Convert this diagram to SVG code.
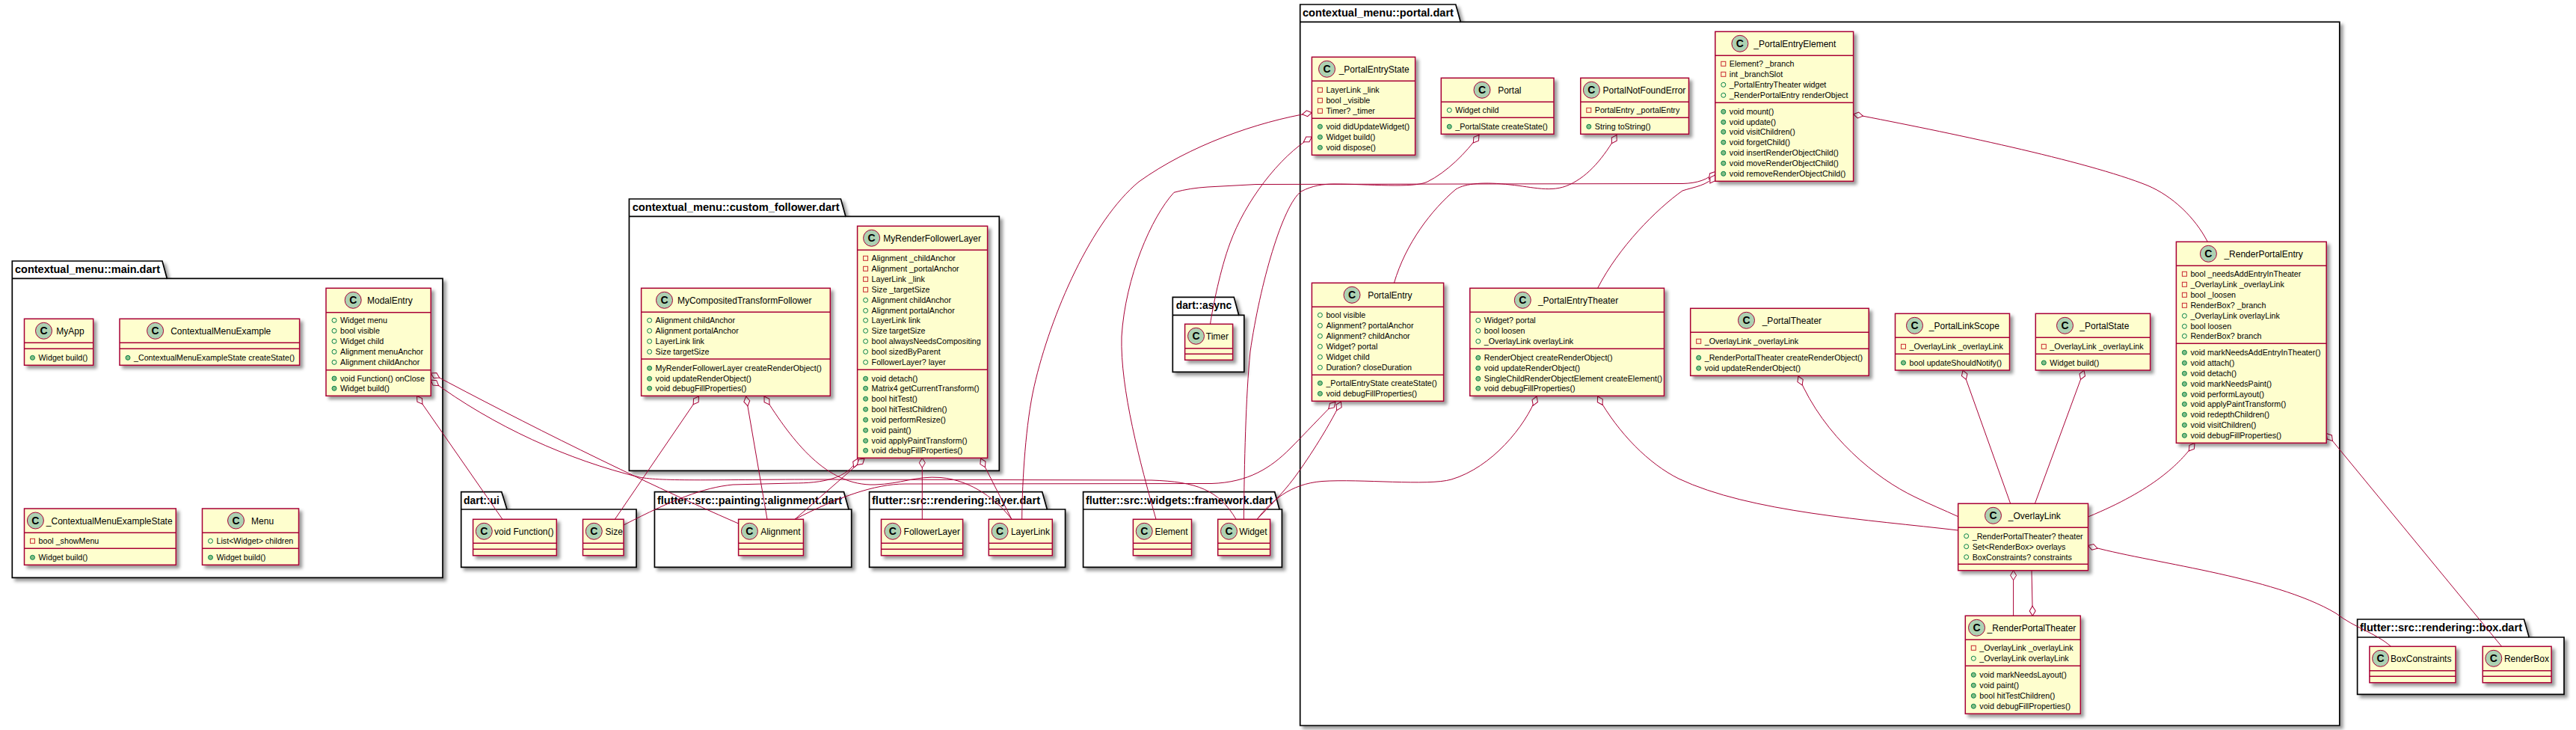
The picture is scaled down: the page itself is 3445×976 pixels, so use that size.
<svg xmlns="http://www.w3.org/2000/svg" width="3445" height="976" viewBox="0 0 3445 976">
<style>
text{font-family:"Liberation Sans",Arial,sans-serif;fill:#000}
.p{fill:#fff;stroke:#000;stroke-width:1.7;filter:url(#f)}
.pl{fill:none;stroke:#000;stroke-width:1.7}
.pt{font-size:14px;font-weight:700}
.b{fill:#FEFECE;stroke:#A80036;stroke-width:1.5;filter:url(#f)}
.s{fill:none;stroke:#A80036;stroke-width:1.5}
.n{font-size:12px}
.t{font-size:10.7px}
.cc{fill:#ADD1B2;stroke:#A80036;stroke-width:1}
.cl{font-size:14px;font-weight:700;text-anchor:middle}
.k path{fill:none;stroke:#A80036;stroke-width:1;marker-start:url(#d)}
</style>
<defs>
<filter id="f" x="-10%" y="-10%" width="130%" height="130%">
<feGaussianBlur result="b1" stdDeviation="2"/>
<feColorMatrix in="b1" result="b2" type="matrix" values="0 0 0 0 0 0 0 0 0 0 0 0 0 0 0 0 0 0 .4 0"/>
<feOffset dx="4" dy="4" in="b2" result="b3"/>
<feBlend in="SourceGraphic" in2="b3" mode="normal"/>
</filter>
<marker id="d" markerUnits="userSpaceOnUse" markerWidth="16" markerHeight="12" viewBox="-1 -6 16 12" refX="0" refY="0" orient="auto"><path d="M0,0L6.5,-4L13,0L6.5,4Z" fill="#fff" stroke="#A80036" stroke-width="1"/></marker>
<circle id="ia" r="3" fill="none" stroke="#038048"/>
<circle id="im" r="3" fill="#84BE84" stroke="#038048"/>
<rect id="ip" x="-3" y="-3" width="6" height="6" fill="none" stroke="#C82930"/>
<g id="sc"><circle class="cc" r="11"/><text class="cl" y="5">C</text></g>
</defs>

<g id="pkg-main"><path class="p" d="M16.3,349H217L223.3,372.3H592V772.3H16.3Z"/><path class="pl" d="M16.3,372.3H223.3"/><text class="pt" x="20" y="365" textLength="194" lengthAdjust="spacingAndGlyphs">contextual_menu::main.dart</text></g>
<g id="pkg-follower"><path class="p" d="M841.4,266H1124.4L1130.9,289.3H1336.3V629.3H841.4Z"/><path class="pl" d="M841.4,289.3H1130.9"/><text class="pt" x="845.7" y="282" textLength="277" lengthAdjust="spacingAndGlyphs">contextual_menu::custom_follower.dart</text></g>
<g id="pkg-portal"><path class="p" d="M1738.7,6H1946.8L1953.3,29.3H3128.8V970H1738.7Z"/><path class="pl" d="M1738.7,29.3H1953.3"/><text class="pt" x="1742" y="22" textLength="202" lengthAdjust="spacingAndGlyphs">contextual_menu::portal.dart</text></g>
<g id="pkg-async"><path class="p" d="M1568.3,397.3H1650.2L1656.7,421.3H1663.8V497.3H1568.3Z"/><path class="pl" d="M1568.3,421.3H1656.7"/><text class="pt" x="1572.7" y="413.3" textLength="74.5" lengthAdjust="spacingAndGlyphs">dart::async</text></g>
<g id="pkg-ui"><path class="p" d="M616.7,657.7H670.8L678,681H851V758.3H616.7Z"/><path class="pl" d="M616.7,681H678"/><text class="pt" x="620" y="673.7" textLength="48" lengthAdjust="spacingAndGlyphs">dart::ui</text></g>
<g id="pkg-alignment"><path class="p" d="M875.4,657.7H1128.5L1135,681H1138.7V758.3H875.4Z"/><path class="pl" d="M875.4,681H1135"/><text class="pt" x="879" y="673.7" textLength="247" lengthAdjust="spacingAndGlyphs">flutter::src::painting::alignment.dart</text></g>
<g id="pkg-layer"><path class="p" d="M1162.6,657.7H1393.8L1400.3,681H1424.6V758.3H1162.6Z"/><path class="pl" d="M1162.6,681H1400.3"/><text class="pt" x="1166" y="673.7" textLength="225" lengthAdjust="spacingAndGlyphs">flutter::src::rendering::layer.dart</text></g>
<g id="pkg-framework"><path class="p" d="M1448.6,657.7H1704.7L1711,681H1714.4V758.3H1448.6Z"/><path class="pl" d="M1448.6,681H1711"/><text class="pt" x="1452" y="673.7" textLength="250" lengthAdjust="spacingAndGlyphs">flutter::src::widgets::framework.dart</text></g>
<g id="pkg-box"><path class="p" d="M3152.6,828H3375.5L3382.2,852H3429V928.3H3152.6Z"/><path class="pl" d="M3152.6,852H3382.2"/><text class="pt" x="3156" y="844" textLength="217" lengthAdjust="spacingAndGlyphs">flutter::src::rendering::box.dart</text></g>

<g id="connectors" class="k">
<path d="M557.5,529.5L672,694.3"/>
<path d="M576.2,499C700,565 850,640 987.6,700"/>
<path d="M576.2,508C660,570 760,615 855,638C885,644 960,641 1100,641L1540,642C1600,644 1630,655 1653,694.3"/>
<path d="M934.5,530L822.3,694.3"/>
<path d="M997.7,530L1026,694.3"/>
<path d="M1022,530C1060,590 1105,650 1170,648C1205,647 1225,636 1258,638.5C1300,642 1335,670 1353,694.3"/>
<path d="M1147,613C1135,640 1100,646 1060,646L980,648C940,652 900,668 834,702"/>
<path d="M1156,613L1063,694.3"/>
<path d="M1233.3,612.3L1233.3,694.3"/>
<path d="M1311.5,613L1353,694.3"/>
<path d="M1754.4,150.7C1680,163 1590,195 1523,243C1460,295 1405,420 1383,516.7C1372,565 1367,640 1366.7,694.3"/>
<path d="M1754.4,183C1710,210 1665,270 1645,325C1632,360 1622,410 1618.5,433.3"/>
<path d="M1978,180.5C1960,205 1935,230 1909,243C1890,252 1830,246 1784,246C1770,246 1755,248 1740,256C1715,275 1685,380 1672,470C1666,530 1664,620 1663.4,694.3"/>
<path d="M1786,537.5C1770,553 1745,580 1725,600C1700,625 1670,645 1620,646.5L1210,647C1170,647 1120,665 1063,694.3"/>
<path d="M1793.4,537C1775,575 1745,620 1730,640C1715,660 1695,680 1681,694.3"/>
<path d="M2055,530C2040,570 1995,625 1941,641C1910,650 1820,640 1768,643.5C1725,647 1700,670 1681,694.3"/>
<path d="M2293.8,229.5C2285,240 2270,245 2250,245.5L1680,246.5L1615,250C1600,251 1585,253 1570,257.3C1540,290 1505,370 1500,450C1498,520 1525,620 1546,694.3"/>
<path d="M2293.8,234C2285,248 2265,250 2250,255C2215,280 2165,330 2136.6,385.3"/>
<path d="M2162,180.5C2145,210 2125,235 2098.6,247C2075,258 2050,250 2020,247C1985,243 1960,245 1947,253C1915,280 1880,325 1864.4,378.3"/>
<path d="M2478.6,152.7C2600,176 2790,215 2872,248C2905,262 2935,290 2952.3,323.3"/>
<path d="M2136.6,530C2165,580 2205,620 2245,640C2340,685 2500,695 2618.7,709"/>
<path d="M2405,503C2440,585 2510,640 2560,664C2580,674 2600,682 2618.7,690.7"/>
<path d="M2625,495.2L2688.7,673.3"/>
<path d="M2787,495.2L2721.4,673.3"/>
<path d="M2935,592.5C2915,620 2880,655 2792.5,691"/>
<path d="M2692.6,762.7L2692.6,823.3"/>
<path d="M2718.3,823.3L2717,762.7"/>
<path d="M2792.5,729.5C2870,752 3040,770 3124,820C3150,840 3175,845 3197.7,864.3"/>
<path d="M3111.2,579.5L3345.6,864.3"/>
</g>

<g id="MyApp" transform="translate(32.5,426.3)"><rect class="b" width="92.2" height="62"/><path class="s" d="M0,32H92.2M0,40H92.2"/><use href="#sc" x="26" y="16"/><text class="n" x="42.8" y="20.5">MyApp</text><use href="#im" x="11" y="52"/><text class="t" x="19" y="56">Widget build()</text></g>
<g id="ContextualMenuExample" transform="translate(160,426.3)"><rect class="b" width="240.6" height="62"/><path class="s" d="M0,32H240.6M0,40H240.6"/><use href="#sc" x="47.6" y="16"/><text class="n" x="68.2" y="20.5">ContextualMenuExample</text><use href="#im" x="11" y="52"/><text class="t" x="19" y="56">_ContextualMenuExampleState createState()</text></g>
<g id="ModalEntry" transform="translate(436,385.3)"><rect class="b" width="140.2" height="144"/><path class="s" d="M0,32.4H140.2M0,109.4H140.2"/><use href="#sc" x="36.2" y="16"/><text class="n" x="55" y="20.5">ModalEntry</text>
<use href="#ia" x="11" y="43"/><text class="t" x="19" y="47">Widget menu</text><use href="#ia" x="11" y="57"/><text class="t" x="19" y="61">bool visible</text><use href="#ia" x="11" y="71"/><text class="t" x="19" y="75">Widget child</text><use href="#ia" x="11" y="85"/><text class="t" x="19" y="89">Alignment menuAnchor</text><use href="#ia" x="11" y="99"/><text class="t" x="19" y="103">Alignment childAnchor</text>
<use href="#im" x="11" y="120.7"/><text class="t" x="19" y="124.7">void Function() onClose</text><use href="#im" x="11" y="134"/><text class="t" x="19" y="138">Widget build()</text></g>
<g id="_ContextualMenuExampleState" transform="translate(32.5,680)"><rect class="b" width="202.8" height="75.3"/><path class="s" d="M0,32.3H202.8M0,53.3H202.8"/><use href="#sc" x="14.9" y="16"/><text class="n" x="29.3" y="20.5">_ContextualMenuExampleState</text><use href="#ip" x="11" y="43.3"/><text class="t" x="19" y="47.3">bool _showMenu</text><use href="#im" x="11" y="65.3"/><text class="t" x="19" y="69.3">Widget build()</text></g>
<g id="Menu" transform="translate(270.5,680)"><rect class="b" width="129" height="75.3"/><path class="s" d="M0,32.3H129M0,53.3H129"/><use href="#sc" x="45" y="16"/><text class="n" x="65.6" y="20.5">Menu</text><use href="#ia" x="11" y="43.3"/><text class="t" x="19" y="47.3">List&lt;Widget&gt; children</text><use href="#im" x="11" y="65.3"/><text class="t" x="19" y="69.3">Widget build()</text></g>

<g id="MyCompositedTransformFollower" transform="translate(857.6,385.3)"><rect class="b" width="252.7" height="144"/><path class="s" d="M0,32H252.7M0,94.7H252.7"/><use href="#sc" x="30.9" y="16"/><text class="n" x="48.3" y="20.5">MyCompositedTransformFollower</text>
<use href="#ia" x="11" y="43"/><text class="t" x="19" y="47">Alignment childAnchor</text><use href="#ia" x="11" y="57"/><text class="t" x="19" y="61">Alignment portalAnchor</text><use href="#ia" x="11" y="71"/><text class="t" x="19" y="75">LayerLink link</text><use href="#ia" x="11" y="85"/><text class="t" x="19" y="89">Size targetSize</text>
<use href="#im" x="11" y="107"/><text class="t" x="19" y="111">MyRenderFollowerLayer createRenderObject()</text><use href="#im" x="11" y="121"/><text class="t" x="19" y="125">void updateRenderObject()</text><use href="#im" x="11" y="134"/><text class="t" x="19" y="138">void debugFillProperties()</text></g>
<g id="MyRenderFollowerLayer" transform="translate(1146.6,302.3)"><rect class="b" width="174" height="310"/><path class="s" d="M0,32H174M0,192H174"/><use href="#sc" x="19" y="16"/><text class="n" x="34.7" y="20.5">MyRenderFollowerLayer</text>
<use href="#ip" x="11" y="43"/><text class="t" x="19" y="47">Alignment _childAnchor</text><use href="#ip" x="11" y="57"/><text class="t" x="19" y="61">Alignment _portalAnchor</text><use href="#ip" x="11" y="71"/><text class="t" x="19" y="75">LayerLink _link</text><use href="#ip" x="11" y="85"/><text class="t" x="19" y="89">Size _targetSize</text><use href="#ia" x="11" y="99"/><text class="t" x="19" y="103">Alignment childAnchor</text><use href="#ia" x="11" y="113"/><text class="t" x="19" y="117">Alignment portalAnchor</text><use href="#ia" x="11" y="126"/><text class="t" x="19" y="130">LayerLink link</text><use href="#ia" x="11" y="140"/><text class="t" x="19" y="144">Size targetSize</text><use href="#ia" x="11" y="154"/><text class="t" x="19" y="158">bool alwaysNeedsCompositing</text><use href="#ia" x="11" y="168"/><text class="t" x="19" y="172">bool sizedByParent</text><use href="#ia" x="11" y="182"/><text class="t" x="19" y="186">FollowerLayer? layer</text>
<use href="#im" x="11" y="204"/><text class="t" x="19" y="208">void detach()</text><use href="#im" x="11" y="217"/><text class="t" x="19" y="221">Matrix4 getCurrentTransform()</text><use href="#im" x="11" y="231"/><text class="t" x="19" y="235">bool hitTest()</text><use href="#im" x="11" y="245"/><text class="t" x="19" y="249">bool hitTestChildren()</text><use href="#im" x="11" y="259"/><text class="t" x="19" y="263">void performResize()</text><use href="#im" x="11" y="273"/><text class="t" x="19" y="277">void paint()</text><use href="#im" x="11" y="287"/><text class="t" x="19" y="291">void applyPaintTransform()</text><use href="#im" x="11" y="300"/><text class="t" x="19" y="304">void debugFillProperties()</text></g>

<g id="Timer" transform="translate(1584.6,433.3)"><rect class="b" width="64" height="48"/><path class="s" d="M0,32.5H64M0,40H64"/><use href="#sc" x="14.9" y="16"/><text class="n" x="28.2" y="20.5">Timer</text></g>
<g id="void-Function" transform="translate(632.6,694.3)"><rect class="b" width="111.7" height="48.4"/><path class="s" d="M0,32H111.7M0,40H111.7"/><use href="#sc" x="14.7" y="16"/><text class="n" x="28.5" y="20.5">void Function()</text></g>
<g id="Size" transform="translate(779.5,694.3)"><rect class="b" width="54.5" height="48.4"/><path class="s" d="M0,32H54.5M0,40H54.5"/><use href="#sc" x="14.8" y="16"/><text class="n" x="30.1" y="20.5">Size</text></g>
<g id="Alignment" transform="translate(987.6,694.3)"><rect class="b" width="86.8" height="48.4"/><path class="s" d="M0,32H86.8M0,40H86.8"/><use href="#sc" x="14.8" y="16"/><text class="n" x="29.6" y="20.5">Alignment</text></g>
<g id="FollowerLayer" transform="translate(1178.5,694.3)"><rect class="b" width="109.1" height="48.4"/><path class="s" d="M0,32H109.1M0,40H109.1"/><use href="#sc" x="15.3" y="16"/><text class="n" x="30.1" y="20.5">FollowerLayer</text></g>
<g id="LayerLink" transform="translate(1322.3,694.3)"><rect class="b" width="85" height="48.4"/><path class="s" d="M0,32H85M0,40H85"/><use href="#sc" x="14.8" y="16"/><text class="n" x="29.6" y="20.5">LayerLink</text></g>
<g id="Element" transform="translate(1515.4,694.3)"><rect class="b" width="78.1" height="48.4"/><path class="s" d="M0,32H78.1M0,40H78.1"/><use href="#sc" x="14.8" y="16"/><text class="n" x="29.1" y="20.5">Element</text></g>
<g id="Widget" transform="translate(1628.7,694.3)"><rect class="b" width="69.9" height="48.4"/><path class="s" d="M0,32H69.9M0,40H69.9"/><use href="#sc" x="14.8" y="16"/><text class="n" x="28.5" y="20.5">Widget</text></g>
<g id="BoxConstraints" transform="translate(3168.9,864.3)"><rect class="b" width="115.1" height="48.4"/><path class="s" d="M0,32.4H115.1M0,40H115.1"/><use href="#sc" x="14.7" y="16"/><text class="n" x="28.2" y="20.5">BoxConstraints</text></g>
<g id="RenderBox" transform="translate(3320.2,864.3)"><rect class="b" width="91.9" height="48.4"/><path class="s" d="M0,32.4H91.9M0,40H91.9"/><use href="#sc" x="14.6" y="16"/><text class="n" x="28.7" y="20.5">RenderBox</text></g>

<g id="_PortalEntryState" transform="translate(1754.4,76.3)"><rect class="b" width="138.2" height="131"/><path class="s" d="M0,32H138.2M0,82H138.2"/><use href="#sc" x="20.1" y="16"/><text class="n" x="36.3" y="20.5">_PortalEntryState</text>
<use href="#ip" x="11" y="44"/><text class="t" x="19" y="48">LayerLink _link</text><use href="#ip" x="11" y="58"/><text class="t" x="19" y="62">bool _visible</text><use href="#ip" x="11" y="72"/><text class="t" x="19" y="76">Timer? _timer</text>
<use href="#im" x="11" y="93"/><text class="t" x="19" y="97">void didUpdateWidget()</text><use href="#im" x="11" y="107"/><text class="t" x="19" y="111">Widget build()</text><use href="#im" x="11" y="121"/><text class="t" x="19" y="125">void dispose()</text></g>
<g id="Portal" transform="translate(1927.3,104.3)"><rect class="b" width="150.7" height="75"/><path class="s" d="M0,32H150.7M0,53H150.7"/><use href="#sc" x="54.7" y="16"/><text class="n" x="75.9" y="20.5">Portal</text><use href="#ia" x="11" y="43"/><text class="t" x="19" y="47">Widget child</text><use href="#im" x="11" y="65"/><text class="t" x="19" y="69">_PortalState createState()</text></g>
<g id="PortalNotFoundError" transform="translate(2113.8,104.3)"><rect class="b" width="144.7" height="75"/><path class="s" d="M0,32H144.7M0,53H144.7"/><use href="#sc" x="14.6" y="16"/><text class="n" x="29.8" y="20.5">PortalNotFoundError</text><use href="#ip" x="11" y="43"/><text class="t" x="19" y="47">PortalEntry _portalEntry</text><use href="#im" x="11" y="65"/><text class="t" x="19" y="69">String toString()</text></g>
<g id="_PortalEntryElement" transform="translate(2293.8,42.3)"><rect class="b" width="184.8" height="200"/><path class="s" d="M0,32H184.8M0,95H184.8"/><use href="#sc" x="33.1" y="16"/><text class="n" x="51.5" y="20.5">_PortalEntryElement</text>
<use href="#ip" x="11" y="43"/><text class="t" x="19" y="47">Element? _branch</text><use href="#ip" x="11" y="57"/><text class="t" x="19" y="61">int _branchSlot</text><use href="#ia" x="11" y="71"/><text class="t" x="19" y="75">_PortalEntryTheater widget</text><use href="#ia" x="11" y="85"/><text class="t" x="19" y="89">_RenderPortalEntry renderObject</text>
<use href="#im" x="11" y="107"/><text class="t" x="19" y="111">void mount()</text><use href="#im" x="11" y="121"/><text class="t" x="19" y="125">void update()</text><use href="#im" x="11" y="134"/><text class="t" x="19" y="138">void visitChildren()</text><use href="#im" x="11" y="148"/><text class="t" x="19" y="152">void forgetChild()</text><use href="#im" x="11" y="162"/><text class="t" x="19" y="166">void insertRenderObjectChild()</text><use href="#im" x="11" y="176"/><text class="t" x="19" y="180">void moveRenderObjectChild()</text><use href="#im" x="11" y="190"/><text class="t" x="19" y="194">void removeRenderObjectChild()</text></g>
<g id="PortalEntry" transform="translate(1754.4,378.3)"><rect class="b" width="176.2" height="158"/><path class="s" d="M0,32H176.2M0,123H176.2"/><use href="#sc" x="53.6" y="16"/><text class="n" x="74.8" y="20.5">PortalEntry</text>
<use href="#ia" x="11" y="43"/><text class="t" x="19" y="47">bool visible</text><use href="#ia" x="11" y="57"/><text class="t" x="19" y="61">Alignment? portalAnchor</text><use href="#ia" x="11" y="71"/><text class="t" x="19" y="75">Alignment? childAnchor</text><use href="#ia" x="11" y="85"/><text class="t" x="19" y="89">Widget? portal</text><use href="#ia" x="11" y="99"/><text class="t" x="19" y="103">Widget child</text><use href="#ia" x="11" y="113"/><text class="t" x="19" y="117">Duration? closeDuration</text>
<use href="#im" x="11" y="134"/><text class="t" x="19" y="138">_PortalEntryState createState()</text><use href="#im" x="11" y="148"/><text class="t" x="19" y="152">void debugFillProperties()</text></g>
<g id="_PortalEntryTheater" transform="translate(1965.8,385.3)"><rect class="b" width="259.7" height="144"/><path class="s" d="M0,32H259.7M0,81H259.7"/><use href="#sc" x="70.5" y="16"/><text class="n" x="91.1" y="20.5">_PortalEntryTheater</text>
<use href="#ia" x="11" y="43"/><text class="t" x="19" y="47">Widget? portal</text><use href="#ia" x="11" y="57"/><text class="t" x="19" y="61">bool loosen</text><use href="#ia" x="11" y="71"/><text class="t" x="19" y="75">_OverlayLink overlayLink</text>
<use href="#im" x="11" y="93"/><text class="t" x="19" y="97">RenderObject createRenderObject()</text><use href="#im" x="11" y="107"/><text class="t" x="19" y="111">void updateRenderObject()</text><use href="#im" x="11" y="121"/><text class="t" x="19" y="125">SingleChildRenderObjectElement createElement()</text><use href="#im" x="11" y="134"/><text class="t" x="19" y="138">void debugFillProperties()</text></g>
<g id="_PortalTheater" transform="translate(2260.7,412.3)"><rect class="b" width="238.5" height="90"/><path class="s" d="M0,32H238.5M0,54H238.5"/><use href="#sc" x="74.8" y="16"/><text class="n" x="96" y="20.5">_PortalTheater</text><use href="#ip" x="11" y="44"/><text class="t" x="19" y="48">_OverlayLink _overlayLink</text><use href="#im" x="11" y="66"/><text class="t" x="19" y="70">_RenderPortalTheater createRenderObject()</text><use href="#im" x="11" y="80"/><text class="t" x="19" y="84">void updateRenderObject()</text></g>
<g id="_PortalLinkScope" transform="translate(2534.5,419.3)"><rect class="b" width="153" height="75.7"/><path class="s" d="M0,32H153M0,54H153"/><use href="#sc" x="26" y="16"/><text class="n" x="45.3" y="20.5">_PortalLinkScope</text><use href="#ip" x="11" y="44"/><text class="t" x="19" y="48">_OverlayLink _overlayLink</text><use href="#im" x="11" y="65.7"/><text class="t" x="19" y="69.7">bool updateShouldNotify()</text></g>
<g id="_PortalState" transform="translate(2722.3,419.3)"><rect class="b" width="153.3" height="75.7"/><path class="s" d="M0,32H153.3M0,54H153.3"/><use href="#sc" x="39.2" y="16"/><text class="n" x="59" y="20.5">_PortalState</text><use href="#ip" x="11" y="44"/><text class="t" x="19" y="48">_OverlayLink _overlayLink</text><use href="#im" x="11" y="65.7"/><text class="t" x="19" y="69.7">Widget build()</text></g>
<g id="_RenderPortalEntry" transform="translate(2910.4,323.3)"><rect class="b" width="200.8" height="269"/><path class="s" d="M0,32H200.8M0,136H200.8"/><use href="#sc" x="43" y="16"/><text class="n" x="64" y="20.5">_RenderPortalEntry</text>
<use href="#ip" x="11" y="43"/><text class="t" x="19" y="47">bool _needsAddEntryInTheater</text><use href="#ip" x="11" y="57"/><text class="t" x="19" y="61">_OverlayLink _overlayLink</text><use href="#ip" x="11" y="71"/><text class="t" x="19" y="75">bool _loosen</text><use href="#ip" x="11" y="85"/><text class="t" x="19" y="89">RenderBox? _branch</text><use href="#ia" x="11" y="99"/><text class="t" x="19" y="103">_OverlayLink overlayLink</text><use href="#ia" x="11" y="113"/><text class="t" x="19" y="117">bool loosen</text><use href="#ia" x="11" y="126"/><text class="t" x="19" y="130">RenderBox? branch</text>
<use href="#im" x="11" y="148"/><text class="t" x="19" y="152">void markNeedsAddEntryInTheater()</text><use href="#im" x="11" y="162"/><text class="t" x="19" y="166">void attach()</text><use href="#im" x="11" y="176"/><text class="t" x="19" y="180">void detach()</text><use href="#im" x="11" y="190"/><text class="t" x="19" y="194">void markNeedsPaint()</text><use href="#im" x="11" y="204"/><text class="t" x="19" y="208">void performLayout()</text><use href="#im" x="11" y="217"/><text class="t" x="19" y="221">void applyPaintTransform()</text><use href="#im" x="11" y="231"/><text class="t" x="19" y="235">void redepthChildren()</text><use href="#im" x="11" y="245"/><text class="t" x="19" y="249">void visitChildren()</text><use href="#im" x="11" y="259"/><text class="t" x="19" y="263">void debugFillProperties()</text></g>
<g id="_OverlayLink" transform="translate(2618.7,673.3)"><rect class="b" width="173.8" height="89.4"/><path class="s" d="M0,32H173.8M0,81H173.8"/><use href="#sc" x="46.8" y="16"/><text class="n" x="67.1" y="20.5">_OverlayLink</text><use href="#ia" x="11" y="43.4"/><text class="t" x="19" y="47.4">_RenderPortalTheater? theater</text><use href="#ia" x="11" y="57.4"/><text class="t" x="19" y="61.4">Set&lt;RenderBox&gt; overlays</text><use href="#ia" x="11" y="71.4"/><text class="t" x="19" y="75.4">BoxConstraints? constraints</text></g>
<g id="_RenderPortalTheater" transform="translate(2628.3,823.3)"><rect class="b" width="154" height="131"/><path class="s" d="M0,32H154M0,67H154"/><use href="#sc" x="15.2" y="16"/><text class="n" x="29.3" y="20.5">_RenderPortalTheater</text><use href="#ip" x="11" y="43"/><text class="t" x="19" y="47">_OverlayLink _overlayLink</text><use href="#ia" x="11" y="57"/><text class="t" x="19" y="61">_OverlayLink overlayLink</text>
<use href="#im" x="11" y="79"/><text class="t" x="19" y="83">void markNeedsLayout()</text><use href="#im" x="11" y="93"/><text class="t" x="19" y="97">void paint()</text><use href="#im" x="11" y="107"/><text class="t" x="19" y="111">bool hitTestChildren()</text><use href="#im" x="11" y="121"/><text class="t" x="19" y="125">void debugFillProperties()</text></g>
</svg>
